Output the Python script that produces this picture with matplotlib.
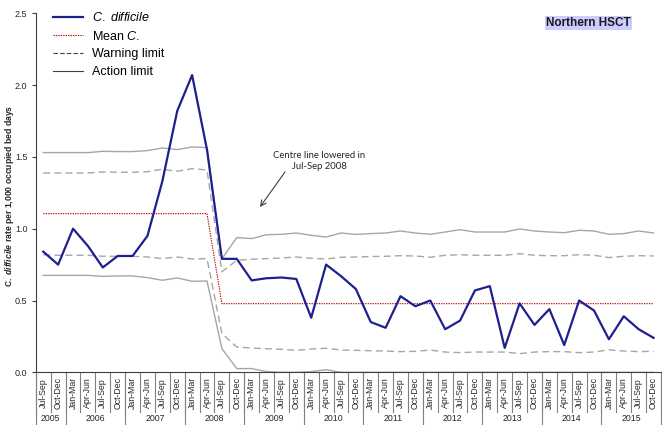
import matplotlib
matplotlib.use('Agg')
import matplotlib.pyplot as plt
from matplotlib.lines import Line2D
import matplotlib.transforms as mtransforms

plt.rcParams['font.family'] = ['Liberation Sans', 'DejaVu Sans']
plt.rcParams['mathtext.fontset'] = 'custom'
plt.rcParams['mathtext.rm'] = 'Liberation Sans'
plt.rcParams['mathtext.it'] = 'Liberation Sans:italic'
plt.rcParams['mathtext.bf'] = 'Liberation Sans:bold'
plt.rcParams['mathtext.bfit'] = 'Liberation Sans:italic:bold'

# ---- data ----
quarter_labels = ["Jul-Sep", "Oct-Dec"] + ["Jan-Mar", "Apr-Jun", "Jul-Sep", "Oct-Dec"] * 10
year_labels = ["2005", "2006", "2007", "2008", "2009", "2010",
               "2011", "2012", "2013", "2014", "2015"]
year_sizes = [2, 4, 4, 4, 4, 4, 4, 4, 4, 4, 4]

cdiff = [0.84, 0.75, 1.00, 0.88, 0.73, 0.81, 0.81, 0.95, 1.33, 1.82, 2.07, 1.55,
         0.79, 0.79, 0.64, 0.655, 0.66, 0.65, 0.38, 0.75, 0.67, 0.58,
         0.35, 0.31, 0.53, 0.46, 0.50, 0.30, 0.36, 0.57, 0.60, 0.17,
         0.48, 0.33, 0.44, 0.19, 0.50, 0.43, 0.23, 0.39, 0.30, 0.24]

mean_line = [1.105] * 12 + [0.478] * 30

action_upper = [1.530, 1.530, 1.530, 1.530, 1.539, 1.537, 1.537, 1.544, 1.562, 1.551, 1.569, 1.565,
                0.79,
                0.938, 0.931, 0.958, 0.961, 0.970, 0.954, 0.942, 0.970, 0.960, 0.966,
                0.970, 0.984, 0.970, 0.961, 0.977, 0.993, 0.977, 0.977, 0.977, 0.998,
                0.984, 0.977, 0.972, 0.989, 0.984, 0.961, 0.966, 0.984, 0.970]

warning_upper = [1.388, 1.388, 1.388, 1.388, 1.395, 1.393, 1.393, 1.397, 1.414, 1.400, 1.418, 1.409,
                 0.70,
                 0.780, 0.787, 0.792, 0.796, 0.803, 0.794, 0.789, 0.801, 0.803, 0.806,
                 0.808, 0.812, 0.810, 0.801, 0.815, 0.819, 0.815, 0.815, 0.815, 0.826,
                 0.815, 0.812, 0.812, 0.819, 0.815, 0.799, 0.808, 0.812, 0.810]

warning_lower = [0.819, 0.815, 0.815, 0.815, 0.808, 0.808, 0.808, 0.803, 0.792, 0.803, 0.789, 0.792,
                 0.27,
                 0.176, 0.169, 0.164, 0.160, 0.153, 0.162, 0.167, 0.155, 0.153, 0.150,
                 0.148, 0.144, 0.146, 0.155, 0.141, 0.137, 0.141, 0.141, 0.141, 0.130,
                 0.141, 0.144, 0.144, 0.137, 0.141, 0.157, 0.148, 0.144, 0.146]

action_lower = [0.675, 0.675, 0.675, 0.675, 0.668, 0.671, 0.671, 0.659, 0.641, 0.657, 0.634, 0.636,
                0.165,
                0.026, 0.026, 0.005, 0.0, 0.0, 0.005, 0.018, 0.0, 0.0, 0.0,
                0.0, 0.0, 0.0, 0.0, 0.0, 0.0, 0.0, 0.0, 0.0, 0.0,
                0.0, 0.0, 0.0, 0.0, 0.0, 0.0, 0.0, 0.0, 0.0]

n = len(cdiff)
x = list(range(n))

navy = '#1f1f8f'
grey = '#a6a6a6'
red = '#c00000'
dark = '#404040'

fig = plt.figure(figsize=(6.62, 4.25), dpi=100)
ax = fig.add_axes([0.0541, 0.124, 0.9444, 0.8447])

ax.plot(x, action_upper, color=grey, lw=1.0)
ax.plot(x, action_lower, color=grey, lw=1.0)
ax.plot(x, warning_upper, color=grey, lw=1.0, dashes=(5, 3))
ax.plot(x, warning_lower, color=grey, lw=1.0, dashes=(5, 3))
ax.plot(x, mean_line, color=red, lw=0.8, dashes=(1.2, 1.0))
ax.plot(x, cdiff, color=navy, lw=1.6)

ax.set_xlim(-0.5, n - 0.5)
ax.set_ylim(0, 2.5)
ax.set_yticks([0, 0.5, 1.0, 1.5, 2.0, 2.5])
ax.set_yticklabels(['0.0', '0.5', '1.0', '1.5', '2.0', '2.5'])
ax.set_xticks([])
for s in ['top', 'right']:
    ax.spines[s].set_visible(False)
for s in ['left', 'bottom']:
    ax.spines[s].set_color(dark)
    ax.spines[s].set_linewidth(0.8)
ax.tick_params(axis='y', length=3, width=0.8, color=dark, labelsize=6.5,
               labelcolor='#262626', pad=3)

# category table below axis
trans = mtransforms.blended_transform_factory(ax.transData, ax.transAxes)
for k in range(n + 1):
    ax.plot([k - 0.5, k - 0.5], [0, -0.1106], transform=trans, clip_on=False,
            color='#808080', lw=0.8)
for i, lab in enumerate(quarter_labels):
    ax.text(i, -0.057, lab, rotation=90, ha='center', va='center', fontsize=6.3,
            transform=trans, color='#262626')
start = 0
for lab, size in zip(year_labels, year_sizes):
    ax.plot([start - 0.5, start - 0.5], [0, -0.147], transform=trans, clip_on=False,
            color='#808080', lw=0.8)
    ax.text(start + size / 2 - 0.5, -0.129, lab, ha='center', va='center', fontsize=6.3,
            transform=trans, color='#262626')
    start += size
ax.plot([start - 0.5, start - 0.5], [0, -0.147], transform=trans, clip_on=False,
        color='#808080', lw=0.8)

# y label
fig.text(10 / 662, 1 - 196 / 425,
         r'$\mathbf{C.}$ $\mathbfit{difficile}$ rate per 1,000 occupied bed days',
         rotation=90, ha='center', va='center', fontsize=6.2, fontweight='bold',
         color='#262626')

# legend
handles = [Line2D([], [], color=navy, lw=1.6),
           Line2D([], [], color=red, lw=0.8, dashes=(1.2, 1.0)),
           Line2D([], [], color=dark, lw=0.8, dashes=(4, 2)),
           Line2D([], [], color=dark, lw=0.8)]
labels = [r'$\mathit{C.\ difficile}$', r'Mean $\mathit{C.}$', 'Warning limit', 'Action limit']
fig.legend(handles, labels, loc='upper left', bbox_to_anchor=(53 / 662, 1 - 11 / 425),
           frameon=False, fontsize=9, handlelength=2.4, handletextpad=0.72,
           labelspacing=0.46, borderpad=0, borderaxespad=0)

# title box
fig.text(588.5 / 662, 1 - 23 / 425, 'Northern HSCT', ha='center', va='center',
         fontsize=8.5, fontweight='bold', color='#1a1a1a',
         bbox=dict(facecolor='#ccccff', edgecolor='none', pad=1.0))

# annotation
ax.annotate('', xy=(260, 425 - 207), xycoords='figure pixels',
            xytext=(285, 425 - 172), textcoords='figure pixels',
            arrowprops=dict(arrowstyle='->', color=dark, lw=0.8, shrinkA=0, shrinkB=0))
fig.text(319 / 662, 1 - 161 / 425, 'Centre line lowered in\nJul-Sep 2008',
         ha='center', va='center', fontsize=6.8, family=['Lato', 'DejaVu Sans'],
         color='#262626', linespacing=1.3)

fig.savefig('out.png', dpi=100)
